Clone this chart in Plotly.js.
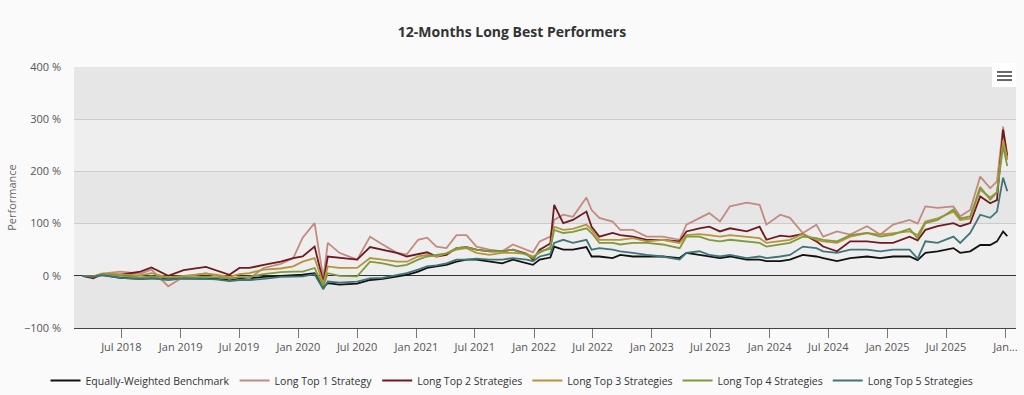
<!DOCTYPE html>
<html>
<head>
<meta charset="utf-8">
<script src="https://cdn.plot.ly/plotly-3.0.1.min.js"></script>
<style>
html,body{margin:0;padding:0;background:#fafafa;}
#chart{width:1024px;height:395px;}
</style>
</head>
<body>
<div id="chart"></div>
<script>
// ---- Data ----
const dates = ['2018-03-01','2018-04-05','2018-05-02','2018-06-28','2018-08-29','2018-10-02','2018-11-23','2019-01-10','2019-03-20','2019-04-20',
 '2019-06-01','2019-07-02','2019-08-02','2019-09-15','2019-11-07','2019-12-16','2020-01-14','2020-02-20','2020-03-18','2020-04-01',
 '2020-05-07','2020-07-01','2020-08-10','2020-09-18','2020-11-01','2020-12-02','2021-01-06','2021-02-03','2021-03-04','2021-04-04',
 '2021-05-05','2021-06-05','2021-07-06','2021-08-15','2021-09-24','2021-10-27','2021-12-09','2021-12-28','2022-01-18','2022-02-20',
 '2022-03-04','2022-04-01','2022-05-01','2022-06-12','2022-06-28','2022-07-22','2022-09-01','2022-09-25','2022-11-03','2022-12-16',
 '2023-02-03','2023-03-28','2023-04-18','2023-05-28','2023-06-28','2023-07-31','2023-08-31','2023-10-22','2023-12-01','2023-12-22',
 '2024-02-03','2024-03-04','2024-04-13','2024-05-25','2024-06-15','2024-07-28','2024-09-07','2024-10-29','2024-12-09','2025-01-18',
 '2025-03-10','2025-04-04','2025-04-28','2025-06-05','2025-07-24','2025-08-14','2025-09-14','2025-10-15','2025-11-15','2025-12-06',
 '2025-12-25','2026-01-07'];

const benchmark = [0,-1,2,-4,-6,-5,-5,-5,-5,-6, -8,-5,-5,-2,0,1,2,5,-22,-14, -17,-15,-8,-6,-1,2,8,15,18,21,
 27,31,31,27,24,31,25,21,31,35, 56,50,50,55,37,37,34,40,37,37, 37,34,44,40,37,34,37,31,31,28,
 28,31,40,37,34,28,34,37,34,37, 37,30,44,47,53,44,47,59,59,66, 85,76];

const top1 = [0,-2,4,8,4,12,-20,-2,5,0, -6,-2,-5,15,23,34,73,101,-5,63, 44,31,75,60,44,41,69,73,56,53,
 78,78,56,50,47,60,50,45,66,75, 107,117,113,150,126,111,104,88,88,75, 75,69,98,111,120,104,133,140,136,98,
 117,111,82,98,75,85,79,95,79,98, 107,100,133,130,133,114,126,190,168,181, 286,222];

const top2 = [0,-5,3,2,8,16,0,11,17,10, 2,15,15,21,27,34,37,56,-12,37, 35,31,55,50,44,37,41,45,37,40,
 53,55,50,47,47,50,42,31,50,62, 136,101,107,123,94,75,82,78,75,69, 69,66,85,91,94,85,91,85,94,69,
 77,75,80,66,56,47,66,66,63,63, 75,68,88,95,101,95,101,152,139,145, 280,230];

const top3 = [0,-1,4,3,1,5,-3,0,4,2, -2,3,5,12,14,18,27,34,-15,18, 15,15,34,31,27,27,37,40,37,43,
 50,53,44,40,44,44,42,37,44,55, 94,88,90,98,88,69,69,69,72,66, 69,63,78,80,78,75,78,75,72,63,
 66,69,80,69,66,63,75,82,79,82, 85,78,104,110,123,107,110,165,150,160, 260,225];

const top4 = [0,-1,3,0,-3,-1,-4,-3,-2,-3, -5,-3,-2,3,7,8,8,15,-20,5, 0,-1,27,24,18,21,31,37,40,43,
 53,55,50,47,47,50,40,34,47,52, 88,82,84,91,82,63,63,60,63,63, 60,53,75,75,69,66,69,66,63,56,
 60,63,75,72,69,66,78,82,75,79, 90,72,101,107,127,110,114,170,146,160, 248,210];

const top5 = [0,-2,1,-4,-6,-5,-8,-5,-6,-7, -10,-8,-8,-6,-2,-1,-1,3,-26,-11, -13,-11,-5,-4,2,5,12,18,20,24,
 31,31,33,31,31,34,31,28,37,42, 63,69,63,69,50,53,50,47,44,40, 37,31,44,47,40,37,40,34,37,34,
 37,40,56,53,47,44,50,50,47,50, 50,33,66,63,75,63,82,117,111,123, 188,162];

const seriesNames = ['Equally-Weighted Benchmark','Long Top 1 Strategy','Long Top 2 Strategies',
  'Long Top 3 Strategies','Long Top 4 Strategies','Long Top 5 Strategies'];
const seriesValues = [benchmark, top1, top2, top3, top4, top5];
const seriesColors = ['#111111','#c4897f','#6e1a20','#b8933e','#7f9a3a','#3f7478'];

const tickVals = ['2018-07-01','2019-01-01','2019-07-01','2020-01-01','2020-07-01','2021-01-01','2021-07-01','2022-01-01',
  '2022-07-01','2023-01-01','2023-07-01','2024-01-01','2024-07-01','2025-01-01','2025-07-01','2026-01-01'];
const tickText = ['Jul 2018','Jan 2019','Jul 2019','Jan 2020','Jul 2020','Jan 2021','Jul 2021','Jan 2022',
  'Jul 2022','Jan 2023','Jul 2023','Jan 2024','Jul 2024','Jan 2025','Jul 2025','Jan...'];

// ---- Chart ----
const traces = seriesNames.map((n, i) => ({
  type: 'scatter', mode: 'lines', name: n, x: dates, y: seriesValues[i],
  line: {color: seriesColors[i], width: 1.8}, hoverinfo: 'skip'
}));
const FONT = '"Open Sans", "Noto Sans", sans-serif';

const bandShapes = [[0,100],[200,300]].map(b => ({
  type: 'rect', xref: 'paper', yref: 'y', x0: 0, x1: 1, y0: b[0], y1: b[1],
  fillcolor: '#eeeeee', line: {width: 0}, layer: 'below'
}));

const menuShapes = [
  {type:'rect', xref:'paper', yref:'paper', x0:0.9745, x1:1.0, y0:0.923, y1:1.015, fillcolor:'#ffffff', line:{width:0}, layer:'above'},
  {type:'line', xref:'paper', yref:'paper', x0:0.9798, x1:0.9958, y0:0.981, y1:0.981, line:{color:'#666666', width:2}},
  {type:'line', xref:'paper', yref:'paper', x0:0.9798, x1:0.9958, y0:0.9655, y1:0.9655, line:{color:'#666666', width:2}},
  {type:'line', xref:'paper', yref:'paper', x0:0.9798, x1:0.9958, y0:0.950, y1:0.950, line:{color:'#666666', width:2}}
];

const layout = {
  width: 1024, height: 395,
  margin: {l: 74, r: 8, t: 67, b: 67},
  paper_bgcolor: '#fafafa',
  plot_bgcolor: '#e6e6e6',
  font: {family: FONT, size: 11, color: '#555555'},
  title: {text: '<b>12-Months Long Best Performers</b>', font: {family: FONT, size: 14, color: '#333333'},
          x: 0.5, xanchor: 'center', y: 0.919, yanchor: 'middle', yref: 'container'},
  showlegend: true,
  legend: {orientation: 'h', x: 0.5, xanchor: 'center', xref: 'container', y: 0.0734, yanchor: 'top', yref: 'container',
           font: {family: FONT, size: 10.5, color: '#333333'}, bgcolor: 'rgba(0,0,0,0)', itemwidth: 30, tracegroupgap: 0},
  xaxis: {
    type: 'date', range: ['2018-02-04','2026-02-03'],
    tickvals: tickVals, ticktext: tickText,
    ticks: 'outside', ticklen: 9, tickcolor: '#777777', tickwidth: 1,
    showgrid: false, showline: true, linecolor: '#444444', linewidth: 1,
    zeroline: false, tickfont: {family: FONT, size: 11, color: '#555555'}
  },
  yaxis: {
    range: [-100, 400], dtick: 100, tick0: 0, ticksuffix: ' %',
    showgrid: true, gridcolor: '#cccccc', gridwidth: 1,
    zeroline: true, zerolinecolor: '#333333', zerolinewidth: 1,
    ticks: '', ticklabelstandoff: 12, automargin: true,
    tickfont: {family: FONT, size: 11, color: '#555555'},
    title: {text: 'Performance', font: {family: FONT, size: 11, color: '#666666'}, standoff: 5}
  },
  shapes: bandShapes.concat(menuShapes)
};

Plotly.newPlot('chart', traces, layout, {displayModeBar: false, responsive: false});
</script>
</body>
</html>
